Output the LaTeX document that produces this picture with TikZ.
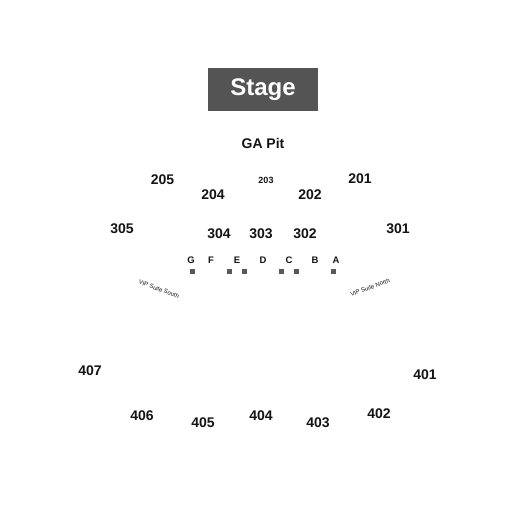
\documentclass[tikz,border=0pt]{standalone}
\usepackage{fontspec}
\setmainfont{Liberation Sans}
\begin{document}
\begin{tikzpicture}[x=1pt,y=-1pt,
  sec/.style={font=\bfseries\fontsize{14}{16}\selectfont, text=black!92, inner sep=0pt},
  small/.style={font=\bfseries\fontsize{9}{10}\selectfont, text=black!92, inner sep=0pt},
  ltr/.style={font=\bfseries\fontsize{9.5}{10}\selectfont, text=black!92, inner sep=0pt},
  vip/.style={font=\fontsize{6}{6}\selectfont, text=black!92, inner sep=0pt},
  sq/.style={fill=black!65, minimum size=5pt, inner sep=0pt}]
\useasboundingbox[fill=white] (0,0) rectangle (525,525);
\node[fill=black!67, minimum width=110pt, minimum height=43pt, inner sep=0pt,
  text=white, font=\bfseries\fontsize{24}{26}\selectfont] (stage) at (263,89.5) {Stage};
\node[sec] (ga) at (263,143) {GA Pit};
\node[sec] (s205) at (162.5,180) {205};
\node[sec] (s204) at (213,195) {204};
\node[small] (s203) at (266,180) {203};
\node[sec] (s202) at (310,195) {202};
\node[sec] (s201) at (360,179) {201};
\node[sec] (s305) at (122,229) {305};
\node[sec] (s304) at (219,234) {304};
\node[sec] (s303) at (261,234) {303};
\node[sec] (s302) at (305,234) {302};
\node[sec] (s301) at (398,229) {301};
\node[ltr] (lG) at (191,260) {G};
\node[ltr] (lF) at (211,260) {F};
\node[ltr] (lE) at (237,260) {E};
\node[ltr] (lD) at (263,260) {D};
\node[ltr] (lC) at (289,260) {C};
\node[ltr] (lB) at (315,260) {B};
\node[ltr] (lA) at (336,260) {A};
\node[sq] (q1) at (192.5,271.5) {};
\node[sq] (q2) at (229.5,271.5) {};
\node[sq] (q3) at (244,271.5) {};
\node[sq] (q4) at (281.5,271.5) {};
\node[sq] (q5) at (296.5,271.5) {};
\node[sq] (q6) at (333,271.5) {};
\node[vip, rotate=-20] (vs) at (159,289) {VIP Suite South};
\node[vip, rotate=20] (vn) at (370,287.5) {VIP Suite North};
\node[sec] (s407) at (90,371) {407};
\node[sec] (s406) at (142,416) {406};
\node[sec] (s405) at (203,423) {405};
\node[sec] (s404) at (261,416) {404};
\node[sec] (s403) at (318,423) {403};
\node[sec] (s402) at (379,414) {402};
\node[sec] (s401) at (425,375) {401};
\end{tikzpicture}
\end{document}
